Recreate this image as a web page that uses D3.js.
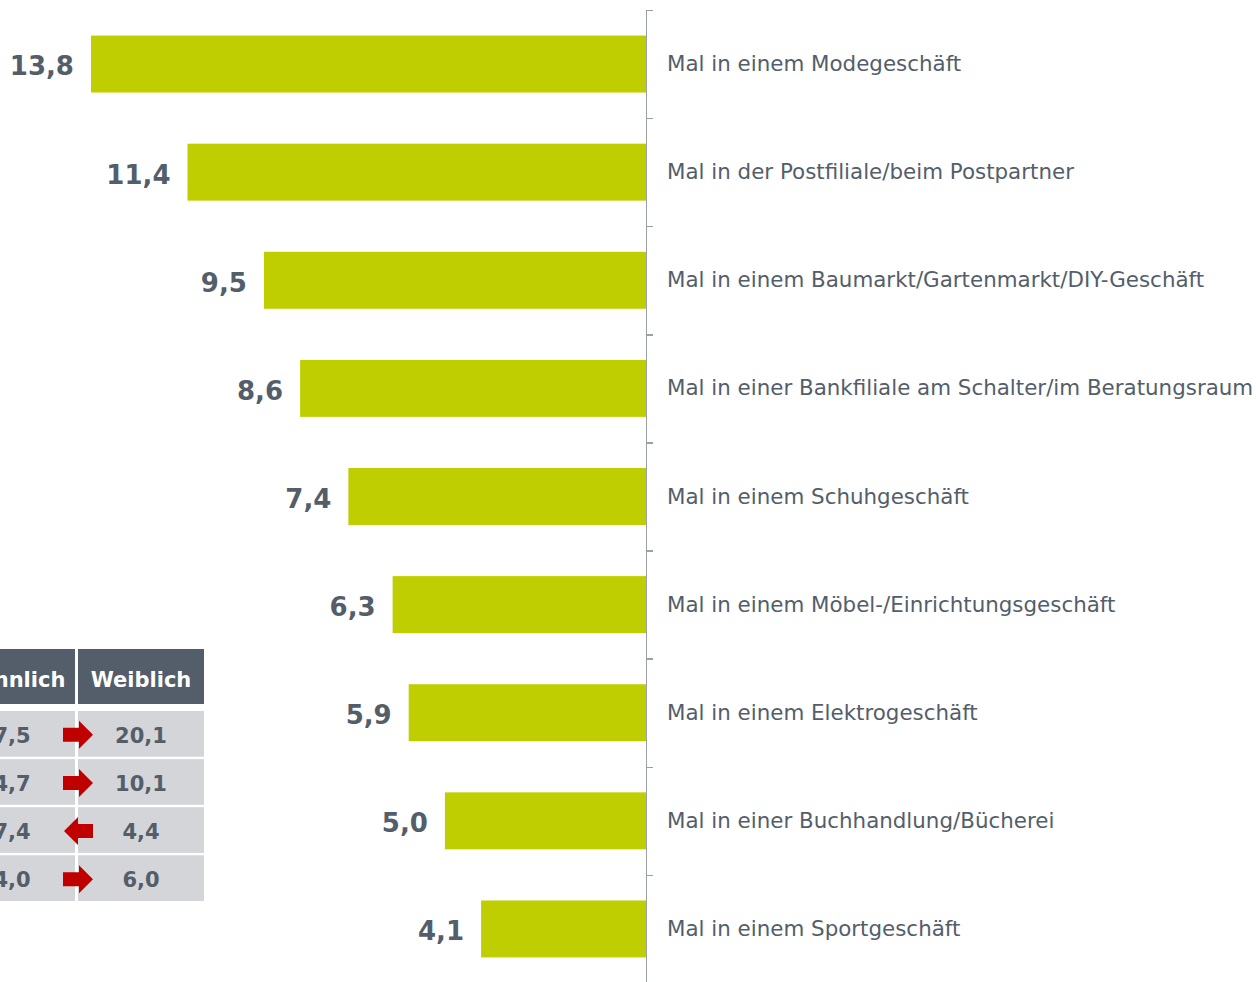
<!DOCTYPE html>
<html>
<head>
<meta charset="utf-8">
<title>Einkaufsorte</title>
<script src="https://cdn.jsdelivr.net/npm/d3@7"></script>
<style>
	body { margin: 0; background: #fff; }
	svg { display: block; font-family: "DejaVu Sans", Verdana, sans-serif; }
	.axis path, .axis line { stroke: #9ba0a7; stroke-width: 1.5; shape-rendering: crispEdges; }
</style>
</head>
<body>
<script>
// data
var categories = [
	"Mal in einem Modegeschäft",
	"Mal in der Postfiliale/beim Postpartner",
	"Mal in einem Baumarkt/Gartenmarkt/DIY-Geschäft",
	"Mal in einer Bankfiliale am Schalter/im Beratungsraum",
	"Mal in einem Schuhgeschäft",
	"Mal in einem Möbel-/Einrichtungsgeschäft",
	"Mal in einem Elektrogeschäft",
	"Mal in einer Buchhandlung/Bücherei",
	"Mal in einem Sportgeschäft"
];
var values = [13.8, 11.4, 9.5, 8.6, 7.4, 6.3, 5.9, 5.0, 4.1];

var tableHeader = ["Männlich", "Weiblich"];
var maleValues = [7.5, 4.7, 7.4, 4.0];
var femaleValues = [20.1, 10.1, 4.4, 6.0];
var arrowDirection = ["right", "right", "left", "right"];

var width = 1256, height = 982;
var barColor = "#bfce00";
var textColor = "#535e6a";

var de = d3.formatLocale({decimal: ",", thousands: ".", grouping: [3], currency: ["", " €"]});
var fmt = de.format(".1f");

var svg = d3.select("body").append("svg")
	.attr("width", width)
	.attr("height", height);

var axisX = 646;
var xScale = d3.scaleLinear()
	.domain([0, 14])
	.range([axisX, axisX - 14 * 40.22]);

var yScale = d3.scaleBand()
	.domain(categories)
	.range([10, 983])
	.paddingInner(0.473)
	.paddingOuter(0.2365);

// tick marks sit on the band boundaries
var yEdges = d3.scaleLinear()
	.domain([0, categories.length])
	.range([10, 983]);

svg.selectAll("rect.bar")
	.data(values)
	.enter()
	.append("rect")
	.attr("class", "bar")
	.attr("x", function (d) { return xScale(d); })
	.attr("y", function (d, i) { return yScale(categories[i]); })
	.attr("width", function (d) { return axisX - xScale(d); })
	.attr("height", yScale.bandwidth())
	.attr("fill", barColor);

svg.selectAll("text.value")
	.data(values)
	.enter()
	.append("text")
	.attr("class", "value")
	.attr("x", function (d) { return xScale(d) - 17; })
	.attr("y", function (d, i) { return yScale(categories[i]) + yScale.bandwidth() / 2; })
	.attr("dy", "0.44em")
	.attr("text-anchor", "end")
	.attr("font-size", "26px")
	.attr("font-weight", "bold")
	.attr("fill", textColor)
	.text(function (d) { return fmt(d); });

var yAxis = d3.axisRight(yEdges)
	.tickValues(d3.range(categories.length + 1))
	.tickFormat("")
	.tickSizeInner(7)
	.tickSizeOuter(0);

svg.append("g")
	.attr("class", "axis")
	.attr("transform", "translate(" + axisX + ",0)")
	.call(yAxis);

svg.selectAll("text.cat")
	.data(categories)
	.enter()
	.append("text")
	.attr("class", "cat")
	.attr("x", axisX + 21)
	.attr("y", function (d) { return yScale(d) + yScale.bandwidth() / 2; })
	.attr("dy", "0.33em")
	.attr("font-size", "21.4px")
	.attr("fill", textColor)
	.text(function (d) { return d; });

// small comparison table, partly cut at the left edge
var colScale = d3.scaleBand()
	.domain([0, 1])
	.range([-51, 204])
	.paddingInner(0.023);

var rowScale = d3.scaleBand()
	.domain(d3.range(maleValues.length))
	.range([711, 901])
	.paddingInner(0.05);

var table = svg.append("g").attr("class", "table");

tableHeader.forEach(function (h, c) {
	table.append("rect")
		.attr("x", colScale(c))
		.attr("y", 649)
		.attr("width", colScale.bandwidth())
		.attr("height", 55)
		.attr("fill", textColor);
	table.append("text")
		.attr("x", colScale(c) + colScale.bandwidth() / 2)
		.attr("y", 649 + 55 / 2)
		.attr("dy", "0.5em")
		.attr("text-anchor", "middle")
		.attr("font-size", "21px")
		.attr("font-weight", "bold")
		.attr("fill", "#fff")
		.text(h);
});

var rows = table.selectAll("g.row")
	.data(maleValues)
	.enter()
	.append("g")
	.attr("class", "row")
	.attr("transform", function (d, i) { return "translate(0," + rowScale(i) + ")"; });

rows.each(function (d, i) {
	var g = d3.select(this);
	var bw = rowScale.bandwidth();
	[maleValues[i], femaleValues[i]].forEach(function (v, c) {
		g.append("rect")
			.attr("x", colScale(c))
			.attr("y", 0)
			.attr("width", colScale.bandwidth())
			.attr("height", bw)
			.attr("fill", "#d4d5d8");
		g.append("text")
			.attr("x", colScale(c) + colScale.bandwidth() / 2)
			.attr("y", bw / 2)
			.attr("dy", "0.42em")
			.attr("text-anchor", "middle")
			.attr("font-size", "21px")
			.attr("font-weight", "bold")
			.attr("fill", textColor)
			.text(fmt(v));
	});
	// arrow
	var cx = 78, cy = bw / 2 + 1;
	var pts;
	if (arrowDirection[i] == "right") {
		pts = [[-15, -7], [1, -7], [1, -14], [15, 0], [1, 14], [1, 7], [-15, 7]];
	} else {
		pts = [[15, -7], [0, -7], [0, -14], [-14, 0], [0, 14], [0, 7], [15, 7]];
	}
	g.append("path")
		.attr("d", d3.line()(pts.map(function (p) { return [cx + p[0], cy + p[1]]; })) + "Z")
		.attr("fill", "#c00000");
});
</script>
</body>
</html>
